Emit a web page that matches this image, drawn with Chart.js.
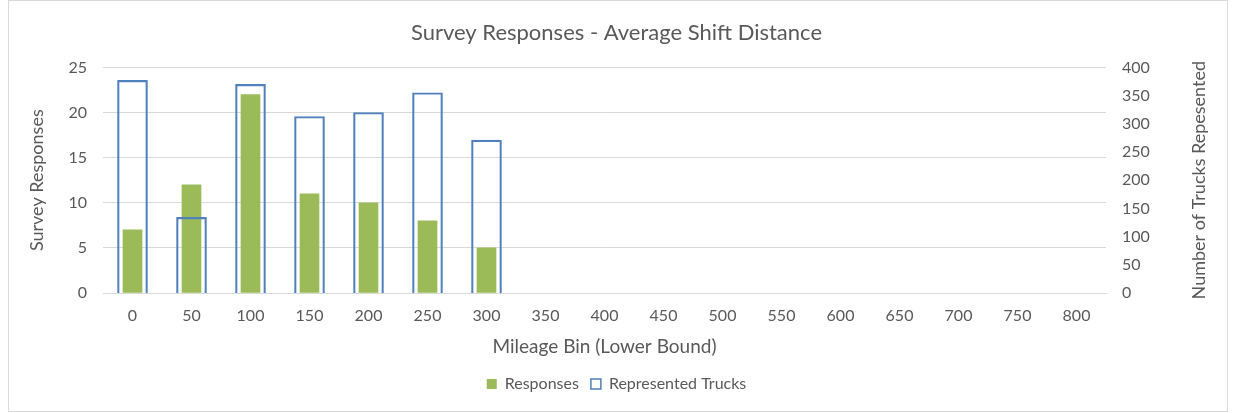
<!DOCTYPE html>
<html>
<head>
<meta charset="utf-8">
<script src="https://cdn.jsdelivr.net/npm/chart.js@4"></script>
<style>
  body { margin: 0; background: #fff; }
</style>
</head>
<body>
<canvas id="chart" width="1233" height="413"></canvas>
<script>
const mileageBins = ['0', '50', '100', '150', '200', '250', '300', '350', '400', '450', '500', '550', '600', '650', '700', '750', '800']
const responses = [7, 12, 22, 11, 10, 8, 5, null, null, null, null, null, null, null, null, null, null]
const representedTrucks = [377, 134, 370, 313, 320, 355, 271, null, null, null, null, null, null, null, null, null, null]

const textColor = '#595959'
const gridColor = '#d9d9d9'
const fontFamily = 'Lato, "Open Sans", sans-serif'
const rightTitle = 'Number of Trucks Repesented'

// light grey frame round the whole chart, like the Excel chart area
const framePlugin = {
    id: 'frame',
    beforeDraw(chart) {
        const ctx = chart.ctx
        ctx.save()
        ctx.strokeStyle = gridColor
        ctx.lineWidth = 1
        ctx.strokeRect(8.5, 0.5, 1219, 411)
        ctx.restore()
    },
    // right axis title reads bottom-to-top in the original, Chart.js turns it the other way
    afterDraw(chart) {
        const ctx = chart.ctx
        const area = chart.chartArea
        ctx.save()
        ctx.translate(1199, (area.top + area.bottom) / 2)
        ctx.rotate(-Math.PI / 2)
        ctx.fillStyle = textColor
        ctx.font = '18px ' + fontFamily
        ctx.textAlign = 'center'
        ctx.textBaseline = 'middle'
        ctx.fillText(rightTitle, 0, 0)
        ctx.restore()
    }
}

new Chart(document.getElementById('chart'), {
    type: 'bar',
    data: {
        labels: mileageBins,
        datasets: [{
            label: 'Responses',
            data: responses,
            yAxisID: 'y',
            backgroundColor: '#9bbb59',
            borderWidth: 0,
            barThickness: 19,
            grouped: false,
            order: 1
        }, {
            label: 'Represented Trucks',
            data: representedTrucks,
            yAxisID: 'y1',
            backgroundColor: 'rgba(255,255,255,0)',
            borderColor: '#4f81bd',
            borderWidth: 1.5,
            barThickness: 30,
            grouped: false,
            order: 0
        }]
    },
    options: {
        responsive: false,
        animation: false,
        layout: { padding: { top: 0, bottom: 11, left: 0, right: 0 } },
        plugins: {
            title: {
                display: true,
                text: 'Survey Responses - Average Shift Distance',
                color: textColor,
                font: { family: fontFamily, size: 22, weight: 'normal' },
                padding: { top: 20, bottom: 21 }
            },
            legend: {
                position: 'bottom',
                labels: {
                    color: textColor,
                    font: { family: fontFamily, size: 16 },
                    boxWidth: 10,
                    boxHeight: 10,
                    padding: 12,
                    sort: (a, b) => a.datasetIndex - b.datasetIndex
                }
            },
            tooltip: { enabled: false }
        },
        scales: {
            x: {
                grid: { display: false, drawTicks: false },
                border: { display: true, color: gridColor },
                ticks: { color: textColor, font: { family: fontFamily, size: 16 }, padding: 13, maxRotation: 0 },
                title: {
                    display: true,
                    text: 'Mileage Bin (Lower Bound)',
                    color: textColor,
                    font: { family: fontFamily, size: 19 },
                    padding: { top: 4, bottom: 6 }
                },
                afterFit: s => { s.height = 71 }
            },
            y: {
                position: 'left',
                min: 0,
                max: 25,
                ticks: { stepSize: 5, color: textColor, font: { family: fontFamily, size: 16 }, padding: 16 },
                grid: { color: gridColor, drawTicks: false },
                border: { display: false },
                title: {
                    display: true,
                    text: 'Survey Responses',
                    color: textColor,
                    font: { family: fontFamily, size: 18 },
                    padding: { top: 26, bottom: 0 }
                },
                afterFit: s => { s.width = 103 }
            },
            y1: {
                position: 'right',
                min: 0,
                max: 400,
                ticks: { stepSize: 50, color: textColor, font: { family: fontFamily, size: 16 }, padding: 16 },
                grid: { display: false, drawTicks: false },
                border: { display: false },
                afterFit: s => { s.width = 127 }
            }
        }
    },
    plugins: [framePlugin]
});
</script>
</body>
</html>
